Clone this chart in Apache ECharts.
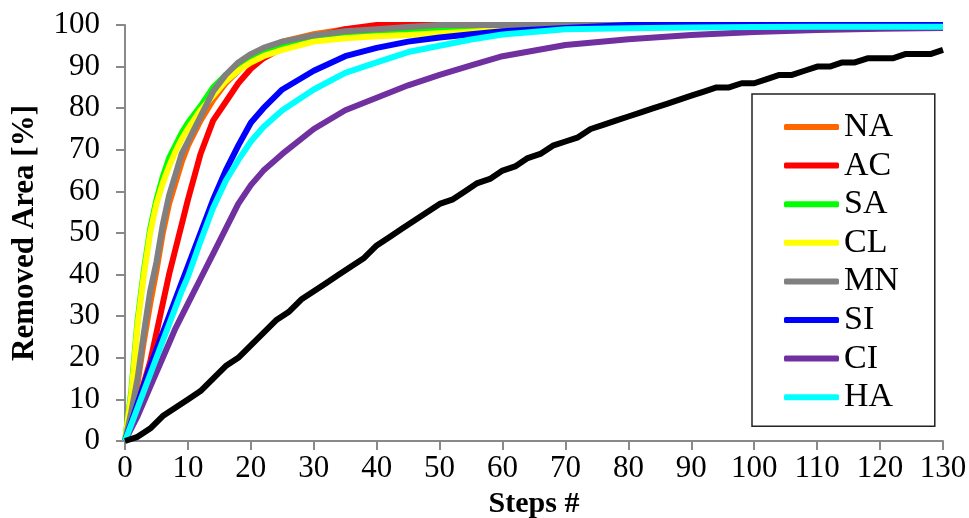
<!DOCTYPE html>
<html>
<head>
<meta charset="utf-8">
<script src="https://cdn.jsdelivr.net/npm/echarts@6/dist/echarts.min.js"></script>
<style>
html,body{margin:0;padding:0;background:#fff;}
#chart{width:969px;height:518px;}
</style>
</head>
<body>
<div id="chart"></div>
<script>
var steps = [0,1,2,3,4,5,6,7,8,9,10,12,14,16,18,20,22,25,30,35,40,45,50,55,60,70,80,90,100,110,120,130];

var NA = [0,6,14,24,33,41,50,57,62,67,71,77,82,86,89,92,94,96,97.8,99,99.6,100,100,100,100,100,100,100,100,100,100,100];
var AC = [0,4,9,14,19,26,33,40,46,52,58,69,77,81.5,86,89.5,92,94.5,97,99,100,100,100,100,100,100,100,100,100,100,100,100];
var SA = [0,12,29,41,51,58,63.5,68,71,74,76.5,80.5,85,88,90,92,93.5,95,97,97.8,98.3,98.6,98.9,99.1,99.2,99.4,99.5,99.5,99.5,99.5,99.5,99.5];
var CL = [0,11,28,40,50,57,62,66,69.5,72.5,75,79.5,83,86.5,89,91,92.5,94,96,96.8,97.3,97.6,98,98.4,98.8,99.2,99.4,99.5,99.5,99.5,99.5,99.5];
var MN = [0,7,15,26,36,43,52,59,64,69,72,78,84,88,91,93,94.5,96,97.5,98.5,99,99.5,100,100,100,100,100,100,100,100,100,100];
var SI = [0,4.5,9,13.5,18,22,26,30,34,38,42,50,58,65,71,76.5,80,84.5,89,92.5,94.5,96,97,97.8,98.5,99.3,100,100,100,100,100,100];
var CI = [0,3,6,9.5,13,16.5,20,23.5,27,30,33,39,45,51,57,61.5,65,69,75,79.5,82.5,85.5,88,90.3,92.5,95.2,96.6,97.6,98.3,98.8,99.1,99.3];
var HA = [0,4,8,12,16,20,24,28,32,36,39.5,48,56,62.5,67.5,72,75.5,79.5,84.5,88.5,91,93.5,95,96.5,97.7,99,99.2,99.4,99.5,99.6,99.6,99.6];

// black reference line, read every 2 steps
var refSteps = [];
for (var s = 0; s <= 130; s += 2) refSteps.push(s);
var REF = [0,1,3,6,8,10,12,15,18,20,23,26,29,31,34,36,38,40,42,44,47,49,51,53,55,57,58,60,62,63,65,66,68,69,71,72,73,75,76,77,78,79,80,81,82,83,84,85,85,86,86,87,88,88,89,90,90,91,91,92,92,92,93,93,93,94];

var names = ['NA','AC','SA','CL','MN','SI','CI','HA'];
var values = [NA, AC, SA, CL, MN, SI, CI, HA];
var colors = ['#FF6600','#FF0000','#00FF00','#FFFF00','#808080','#0000FF','#7030A0','#00FFFF'];

function pairs(xs, ys) {
    return xs.map(function (x, i) { return [x, ys[i]]; });
}

var series = names.map(function (n, i) {
    return {
        name: n,
        type: 'line',
        symbol: 'none',
        data: pairs(steps, values[i]),
        color: colors[i],
        lineStyle: { width: 6 },
        emphasis: { disabled: true }
    };
});
series.push({
    name: 'ref',
    type: 'line',
    symbol: 'none',
    data: pairs(refSteps, REF),
    color: '#000',
    lineStyle: { width: 6 },
    emphasis: { disabled: true }
});

var font = 'Liberation Serif';
var axisGray = '#898989';

var option = {
    animation: false,
    grid: { left: 125, right: 26, top: 25, bottom: 77, containLabel: false, outerBoundsMode: 'none' },
    legend: {
        data: names,
        orient: 'vertical',
        left: 752,
        top: 94,
        padding: [16, 36, 12, 32],
        icon: 'roundRect',
        itemWidth: 55,
        itemHeight: 6,
        itemGap: 4.6,
        borderColor: '#222',
        borderWidth: 1.5,
        textStyle: { fontFamily: font, fontSize: 34, color: '#000', lineHeight: 34 }
    },
    xAxis: {
        type: 'value',
        min: 0,
        max: 130,
        interval: 10,
        name: 'Steps #',
        nameLocation: 'middle',
        nameGap: 44,
        nameTextStyle: { fontFamily: font, fontSize: 30, fontWeight: 'bold', color: '#000' },
        axisLine: { lineStyle: { color: axisGray, width: 2 } },
        axisTick: { length: 9, lineStyle: { color: axisGray, width: 2 } },
        axisLabel: { fontFamily: font, fontSize: 31, color: '#000', margin: 12 },
        splitLine: { show: false }
    },
    yAxis: {
        type: 'value',
        min: 0,
        max: 100,
        interval: 10,
        name: 'Removed Area [%]',
        nameLocation: 'middle',
        nameGap: 85,
        nameTextStyle: { fontFamily: font, fontSize: 31, fontWeight: 'bold', color: '#000' },
        axisLine: { show: true, lineStyle: { color: axisGray, width: 2 } },
        axisTick: { show: true, length: 9, lineStyle: { color: axisGray, width: 2 } },
        axisLabel: { fontFamily: font, fontSize: 31, color: '#000', margin: 25 },
        splitLine: { show: false }
    },
    series: series
};

var myChart = echarts.init(document.getElementById('chart'));
myChart.setOption(option);
</script>
</body>
</html>
